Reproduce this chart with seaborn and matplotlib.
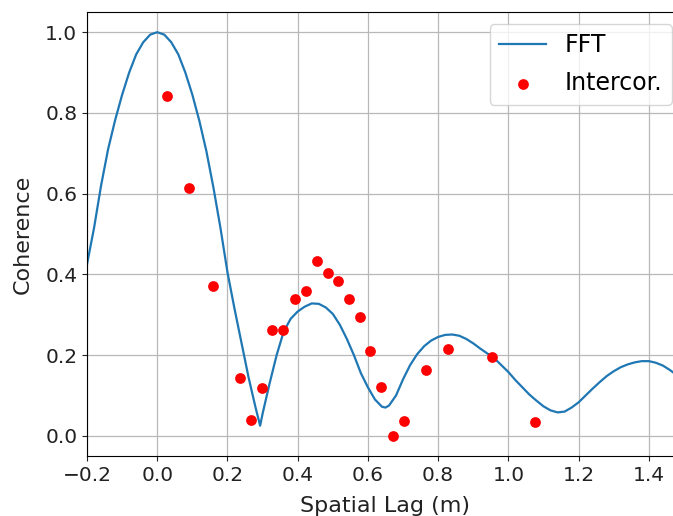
import matplotlib
matplotlib.use("Agg")
import matplotlib.pyplot as plt
import seaborn as sns
import pandas as pd

# FFT coherence curve
fft_lag = [-0.20, -0.18, -0.16, -0.14, -0.12, -0.10, -0.08, -0.06, -0.04, -0.02,
           0.00, 0.02, 0.04, 0.06, 0.08, 0.10, 0.12, 0.14, 0.16, 0.18,
           0.20, 0.22, 0.24, 0.26, 0.28, 0.293, 0.30, 0.32, 0.34, 0.36,
           0.38, 0.40, 0.42, 0.44, 0.46, 0.48, 0.50, 0.52, 0.54, 0.56,
           0.58, 0.60, 0.62, 0.64, 0.65, 0.66, 0.68, 0.70, 0.72, 0.74,
           0.76, 0.78, 0.80, 0.82, 0.84, 0.86, 0.88, 0.90, 0.92, 0.94,
           0.96, 0.98, 1.00, 1.02, 1.04, 1.06, 1.08, 1.10, 1.12, 1.14,
           1.16, 1.18, 1.20, 1.22, 1.24, 1.26, 1.28, 1.30, 1.32, 1.34,
           1.36, 1.38, 1.40, 1.42, 1.44, 1.46, 1.48, 1.50]
fft_coh = [0.425, 0.515, 0.620, 0.710, 0.782, 0.845, 0.900, 0.945, 0.975, 0.994,
           1.000, 0.994, 0.975, 0.945, 0.900, 0.845, 0.780, 0.705, 0.615, 0.515,
           0.405, 0.315, 0.230, 0.145, 0.070, 0.025, 0.055, 0.130, 0.200, 0.258,
           0.290, 0.308, 0.320, 0.328, 0.327, 0.318, 0.302, 0.275, 0.240, 0.200,
           0.155, 0.120, 0.090, 0.072, 0.070, 0.075, 0.100, 0.140, 0.175, 0.202,
           0.222, 0.236, 0.245, 0.250, 0.251, 0.248, 0.240, 0.229, 0.216, 0.204,
           0.192, 0.175, 0.158, 0.138, 0.120, 0.102, 0.087, 0.073, 0.063, 0.058,
           0.060, 0.070, 0.083, 0.100, 0.117, 0.133, 0.148, 0.160, 0.170, 0.177,
           0.182, 0.185, 0.185, 0.181, 0.174, 0.163, 0.150, 0.135]

# Intercorrelation points
ic_lag = [0.029, 0.091, 0.160, 0.235, 0.267, 0.297, 0.326, 0.358, 0.392, 0.424,
          0.455, 0.485, 0.515, 0.547, 0.577, 0.607, 0.638, 0.672, 0.704, 0.764,
          0.827, 0.953, 1.077]
ic_coh = [0.842, 0.613, 0.372, 0.142, 0.040, 0.119, 0.263, 0.263, 0.338, 0.359,
          0.434, 0.403, 0.383, 0.338, 0.294, 0.211, 0.121, -0.001, 0.037, 0.163,
          0.216, 0.196, 0.035]

x_ticks = [-0.2, 0.0, 0.2, 0.4, 0.6, 0.8, 1.0, 1.2, 1.4]
y_ticks = [0.0, 0.2, 0.4, 0.6, 0.8, 1.0]

fft_df = pd.DataFrame({"lag": fft_lag, "coh": fft_coh})
ic_df = pd.DataFrame({"lag": ic_lag, "coh": ic_coh})

fig = plt.figure(figsize=(6.73, 5.16), dpi=100)
ax = fig.add_axes([0.1293, 0.1163, 0.887, 0.8604])

sns.lineplot(data=fft_df, x="lag", y="coh", ax=ax, color="#1f77b4",
             linewidth=1.6, label="FFT", sort=False)
sns.scatterplot(data=ic_df, x="lag", y="coh", ax=ax, color="red",
                s=60, linewidth=0, label="Intercor.", zorder=3)

ax.set_xlim(-0.2, 1.5)
ax.set_ylim(-0.05, 1.05)
ax.set_xticks(x_ticks)
ax.set_yticks(y_ticks)
ax.set_xticklabels([f"{t:.1f}".replace("-", "\u2212") for t in x_ticks])
ax.set_yticklabels([f"{t:.1f}" for t in y_ticks])
ax.tick_params(labelsize=14.5, colors="#222222", labelcolor="#222222")
ax.grid(True, color="#b8b8b8", linewidth=0.9)
ax.set_axisbelow(True)
ax.set_xlabel("Spatial Lag (m)", fontsize=16, color="#222222", labelpad=8)
ax.set_ylabel("Coherence", fontsize=16, color="#222222", labelpad=9)
ax.legend(loc="upper right", fontsize=17, framealpha=0.8, labelspacing=0.6)

fig.savefig("out.png", dpi=100)
